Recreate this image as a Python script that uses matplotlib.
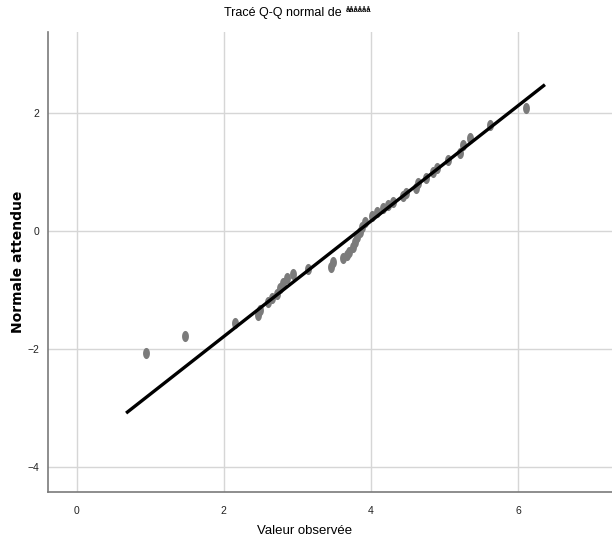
import numpy as np
import matplotlib
matplotlib.use('Agg')
import matplotlib.pyplot as plt
from matplotlib.path import Path

# observed values and their expected normal scores
observed = [0.94, 1.47, 2.15, 2.46, 2.49, 2.60, 2.65, 2.72, 2.76, 2.80,
            2.86, 2.94, 3.14, 3.46, 3.48, 3.62, 3.67, 3.71, 3.76, 3.78,
            3.81, 3.85, 3.88, 3.92, 4.01, 4.08, 4.16, 4.23, 4.30, 4.44,
            4.48, 4.61, 4.64, 4.75, 4.84, 4.90, 5.05, 5.21, 5.25, 5.35,
            5.62, 6.11]
expected = [-2.07, -1.78, -1.56, -1.42, -1.34, -1.20, -1.14, -1.07, -0.97, -0.88,
            -0.80, -0.73, -0.64, -0.61, -0.53, -0.46, -0.41, -0.36, -0.27, -0.19,
            -0.10, -0.02, 0.07, 0.15, 0.25, 0.32, 0.39, 0.44, 0.49, 0.59,
            0.64, 0.73, 0.81, 0.90, 1.00, 1.07, 1.20, 1.32, 1.46, 1.58,
            1.80, 2.08]

# reference line (mean / sd of the sample)
line_x = [0.69, 6.35]
mu = 3.83
sd = 1.024

xticks = [0, 2, 4, 6]
yticks = [-4, -2, 0, 2]

narrow = ['Liberation Sans Narrow', 'Liberation Sans', 'DejaVu Sans']

fig = plt.figure(figsize=(6.12, 5.5), dpi=100)
ax = fig.add_axes([48/612, 1 - 492/550, 1 - 48/612, (492 - 32)/550])

ax.set_xlim(-0.39, 7.28)
ax.set_ylim(-4.42, 3.37)
ax.set_xticks(xticks)
ax.set_yticks(yticks)
ax.tick_params(length=0, labelsize=7.5, colors='#222222')
ax.tick_params(axis='x', pad=10)
ax.tick_params(axis='y', pad=6)
for lab in ax.get_xticklabels() + ax.get_yticklabels():
    lab.set_family(narrow)

ax.grid(True, color='#d6d6d6', linewidth=1.0)
ax.set_axisbelow(True)
for s in ['top', 'right']:
    ax.spines[s].set_visible(False)
for s in ['left', 'bottom']:
    ax.spines[s].set_color('#7a7a7a')
    ax.spines[s].set_linewidth(1.2)

# slightly tall ellipse marker
t = np.linspace(0, 2 * np.pi, 40)
ell = Path(np.column_stack([0.62 * np.cos(t), np.sin(t)]), closed=True)
ax.plot(observed, expected, linestyle='none', marker=ell, markersize=8,
        color='#7b7b7b', markeredgewidth=0, zorder=3)

ly = [(v - mu) / sd for v in line_x]
ax.plot(line_x, ly, color='black', linewidth=2.4, zorder=4)

fig.text(345/612, 1 - 13/550, 'Tracé Q-Q normal de ', ha='right', va='center',
         fontsize=9, family=narrow)
fig.text(346/612, 1 - 11/550, 'åååååå', ha='left', va='center',
         fontsize=5.5, fontweight='bold', family=narrow)
fig.text(305/612, 1 - 531/550, 'Valeur observée', ha='center', va='center',
         fontsize=9.5, family=narrow)
fig.text(18/612, 1 - 262/550, 'Normale attendue', ha='center', va='center',
         rotation=90, fontsize=10, fontweight='bold')

fig.savefig('out.png', dpi=100)
